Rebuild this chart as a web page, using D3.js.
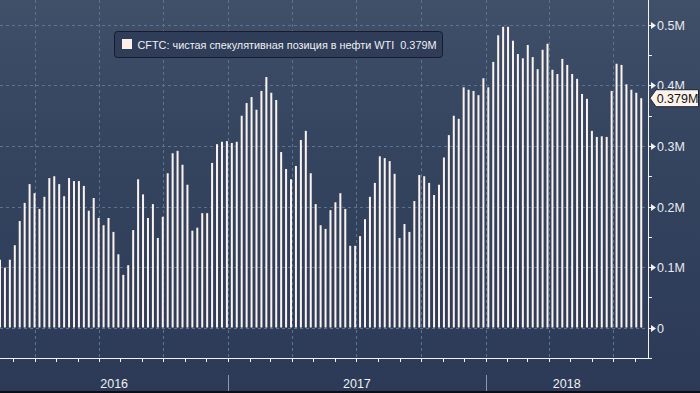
<!DOCTYPE html>
<html>
<head>
<meta charset="utf-8">
<script src="https://cdn.jsdelivr.net/npm/d3@7"></script>
<style>
  html, body { margin: 0; padding: 0; background: #2d3a57; }
  svg { display: block; font-family: "Liberation Sans", Arial, sans-serif; }
</style>
</head>
<body>
<svg id="chart" width="700" height="393"></svg>
<script>
/* weekly CFTC net speculative position in WTI, millions of contracts */
var startDate = "2016-02-12";
var positions = [
  0.112, 0.099, 0.112, 0.136, 0.176, 0.206, 0.237, 0.222, 0.196, 0.216,
  0.247, 0.250, 0.237, 0.217, 0.247, 0.242, 0.242, 0.234, 0.193, 0.214,
  0.181, 0.169, 0.181, 0.158, 0.121, 0.087, 0.103, 0.161, 0.245, 0.220,
  0.181, 0.204, 0.148, 0.183, 0.255, 0.288, 0.292, 0.269, 0.236, 0.160,
  0.165, 0.189, 0.189, 0.272, 0.303, 0.307, 0.308, 0.305, 0.307, 0.350,
  0.371, 0.381, 0.360, 0.391, 0.414, 0.388, 0.376, 0.290, 0.262, 0.245,
  0.267, 0.310, 0.325, 0.255, 0.204, 0.169, 0.163, 0.194, 0.207, 0.222,
  0.196, 0.135, 0.135, 0.151, 0.179, 0.216, 0.239, 0.283, 0.280, 0.275,
  0.254, 0.148, 0.171, 0.158, 0.209, 0.252, 0.250, 0.239, 0.219, 0.236,
  0.281, 0.318, 0.350, 0.345, 0.397, 0.393, 0.391, 0.384, 0.412, 0.397,
  0.439, 0.483, 0.497, 0.497, 0.474, 0.452, 0.445, 0.467, 0.447, 0.427,
  0.459, 0.469, 0.426, 0.419, 0.444, 0.434, 0.419, 0.411, 0.386, 0.378,
  0.325, 0.315, 0.316, 0.315, 0.391, 0.436, 0.434, 0.402, 0.393, 0.388,
  0.379
];
var yTicks = [0, 0.1, 0.2, 0.3, 0.4, 0.5];
var yTickLabels = ["0", "0.1M", "0.2M", "0.3M", "0.4M", "0.5M"];
var years = ["2016", "2017", "2018"];
var legendText = "CFTC: чистая спекулятивная позиция в нефти WTI  0.379M";
var lastLabel = "0.379M";

/* ========================================================================== */

var svg = d3.select("#chart");
var plotRight = 648;
var axisY = 358;

var t0 = d3.utcParse("%Y-%m-%d")(startDate);
var dates = positions.map(function (v, i) { return d3.utcWeek.offset(t0, i); });

var x = d3.scaleUtc()
    .domain([new Date(Date.UTC(2016, 0, 1)), new Date(Date.UTC(2018, 0, 1))])
    .range([-29.6, 485.5]);

var y = d3.scaleLinear()
    .domain([0, 0.5])
    .range([327.5, 25]);

// background gradient
var defs = svg.append("defs");
var bg = defs.append("linearGradient")
    .attr("id", "bg")
    .attr("x1", "0").attr("y1", "0")
    .attr("x2", "0").attr("y2", "1");
bg.append("stop").attr("offset", "0%").attr("stop-color", "#415069");
bg.append("stop").attr("offset", "35%").attr("stop-color", "#35445f");
bg.append("stop").attr("offset", "100%").attr("stop-color", "#2c3a57");

svg.append("rect")
    .attr("width", 700)
    .attr("height", 393)
    .attr("fill", "url(#bg)");

svg.append("rect")
    .attr("y", 391)
    .attr("width", 700)
    .attr("height", 2)
    .attr("fill", "#0b0e14");

// gridlines
var gridColor = "#5a7590";
svg.append("g").selectAll("line")
    .data(yTicks)
    .join("line")
    .attr("x1", 0)
    .attr("x2", plotRight)
    .attr("y1", function (d) { return Math.round(y(d)) + 0.5; })
    .attr("y2", function (d) { return Math.round(y(d)) + 0.5; })
    .attr("stroke", gridColor)
    .attr("stroke-dasharray", "3,3");

var x0 = x.invert(0);
var x1 = x.invert(plotRight);
var quarters = d3.utcMonth.every(3).range(x0, x1);
svg.append("g").selectAll("line")
    .data(quarters)
    .join("line")
    .attr("x1", function (d) { return Math.round(x(d)) + 0.5; })
    .attr("x2", function (d) { return Math.round(x(d)) + 0.5; })
    .attr("y1", 0)
    .attr("y2", axisY)
    .attr("stroke", gridColor)
    .attr("stroke-dasharray", "3,3");

// bars
svg.append("g").selectAll("rect")
    .data(positions)
    .join("rect")
    .attr("x", function (d, i) { return x(dates[i]) - 1; })
    .attr("y", function (d) { return y(d); })
    .attr("width", 2)
    .attr("height", function (d) { return y(0) - y(d); })
    .attr("fill", "#fdf3ee");

// x axis
svg.append("line")
    .attr("x1", 0).attr("x2", plotRight)
    .attr("y1", axisY + 0.5).attr("y2", axisY + 0.5)
    .attr("stroke", "#f2f2f2");

var months = d3.utcMonth.range(x0, x1);
svg.append("g").selectAll("line")
    .data(months)
    .join("line")
    .attr("x1", function (d) { return Math.round(x(d)) + 0.5; })
    .attr("x2", function (d) { return Math.round(x(d)) + 0.5; })
    .attr("y1", axisY)
    .attr("y2", axisY + 4)
    .attr("stroke", "#f2f2f2");

// year bands
var yearStarts = years.map(function (yr) { return new Date(Date.UTC(+yr, 0, 1)); });
svg.append("g").selectAll("line")
    .data(yearStarts.slice(1))
    .join("line")
    .attr("x1", function (d) { return Math.round(x(d)) + 0.5; })
    .attr("x2", function (d) { return Math.round(x(d)) + 0.5; })
    .attr("y1", 375)
    .attr("y2", 391)
    .attr("stroke", "#8f97a6");

svg.append("g").selectAll("text")
    .data(years)
    .join("text")
    .attr("x", function (d, i) {
        var a = Math.max(0, x(yearStarts[i]));
        var b = Math.min(plotRight, x(new Date(Date.UTC(+d + 1, 0, 1))));
        return (a + b) / 2;
    })
    .attr("y", 388)
    .attr("text-anchor", "middle")
    .attr("font-size", "12.5px")
    .attr("fill", "#eef0f4")
    .text(function (d) { return d; });

// y axis (right)
svg.append("line")
    .attr("x1", plotRight + 0.5).attr("x2", plotRight + 0.5)
    .attr("y1", 0).attr("y2", axisY + 0.5)
    .attr("stroke", "#f2f2f2");

svg.append("line")
    .attr("x1", plotRight).attr("x2", plotRight + 4)
    .attr("y1", axisY + 0.5).attr("y2", axisY + 0.5)
    .attr("stroke", "#f2f2f2");

var minor = d3.range(0.05, 0.55, 0.1);
svg.append("g").selectAll("line")
    .data(minor)
    .join("line")
    .attr("x1", plotRight)
    .attr("x2", plotRight + 4)
    .attr("y1", function (d) { return Math.round(y(d)) + 0.5; })
    .attr("y2", function (d) { return Math.round(y(d)) + 0.5; })
    .attr("stroke", "#f2f2f2");

var yt = svg.append("g").selectAll("g")
    .data(yTicks)
    .join("g")
    .attr("transform", function (d) { return "translate(" + plotRight + "," + (Math.round(y(d)) + 0.5) + ")"; });

yt.append("path")
    .attr("d", "M0,-0.5 L3,-0.5 L3,-3.5 L8,0 L3,3.5 L3,0.5 L0,0.5 Z")
    .attr("fill", "#f2f2f2");

yt.append("text")
    .attr("x", 9)
    .attr("y", 4.5)
    .attr("font-size", "12.5px")
    .attr("fill", "#e8ebf2")
    .text(function (d, i) { return yTickLabels[i]; });

// last value tag
var lastY = y(positions[positions.length - 1]);
svg.append("path")
    .attr("d", "M650," + lastY + " L656," + (lastY - 8.5) + " L698.5," + (lastY - 8.5) +
               " L698.5," + (lastY + 8.5) + " L656," + (lastY + 8.5) + " Z")
    .attr("fill", "#fdf3ec")
    .attr("stroke", "#1c2233")
    .attr("stroke-width", 1);

svg.append("text")
    .attr("x", 677.5)
    .attr("y", lastY + 4.5)
    .attr("text-anchor", "middle")
    .attr("font-size", "12.5px")
    .attr("fill", "#111")
    .text(lastLabel);

// legend
var legend = svg.append("g").attr("transform", "translate(114.5,31.5)");
legend.append("rect")
    .attr("width", 328)
    .attr("height", 26)
    .attr("rx", 3)
    .attr("fill", "#2f3d59")
    .attr("stroke", "#161c2b");

legend.append("rect")
    .attr("x", 7.5)
    .attr("y", 7.5)
    .attr("width", 10)
    .attr("height", 10)
    .attr("fill", "#fdf0ec");

legend.append("text")
    .attr("x", 23)
    .attr("y", 17)
    .attr("font-size", "11.5px")
    .attr("fill", "#eef0f4")
    .attr("textLength", 299)
    .attr("lengthAdjust", "spacingAndGlyphs")
    .style("white-space", "pre")
    .text(legendText);
</script>
</body>
</html>
